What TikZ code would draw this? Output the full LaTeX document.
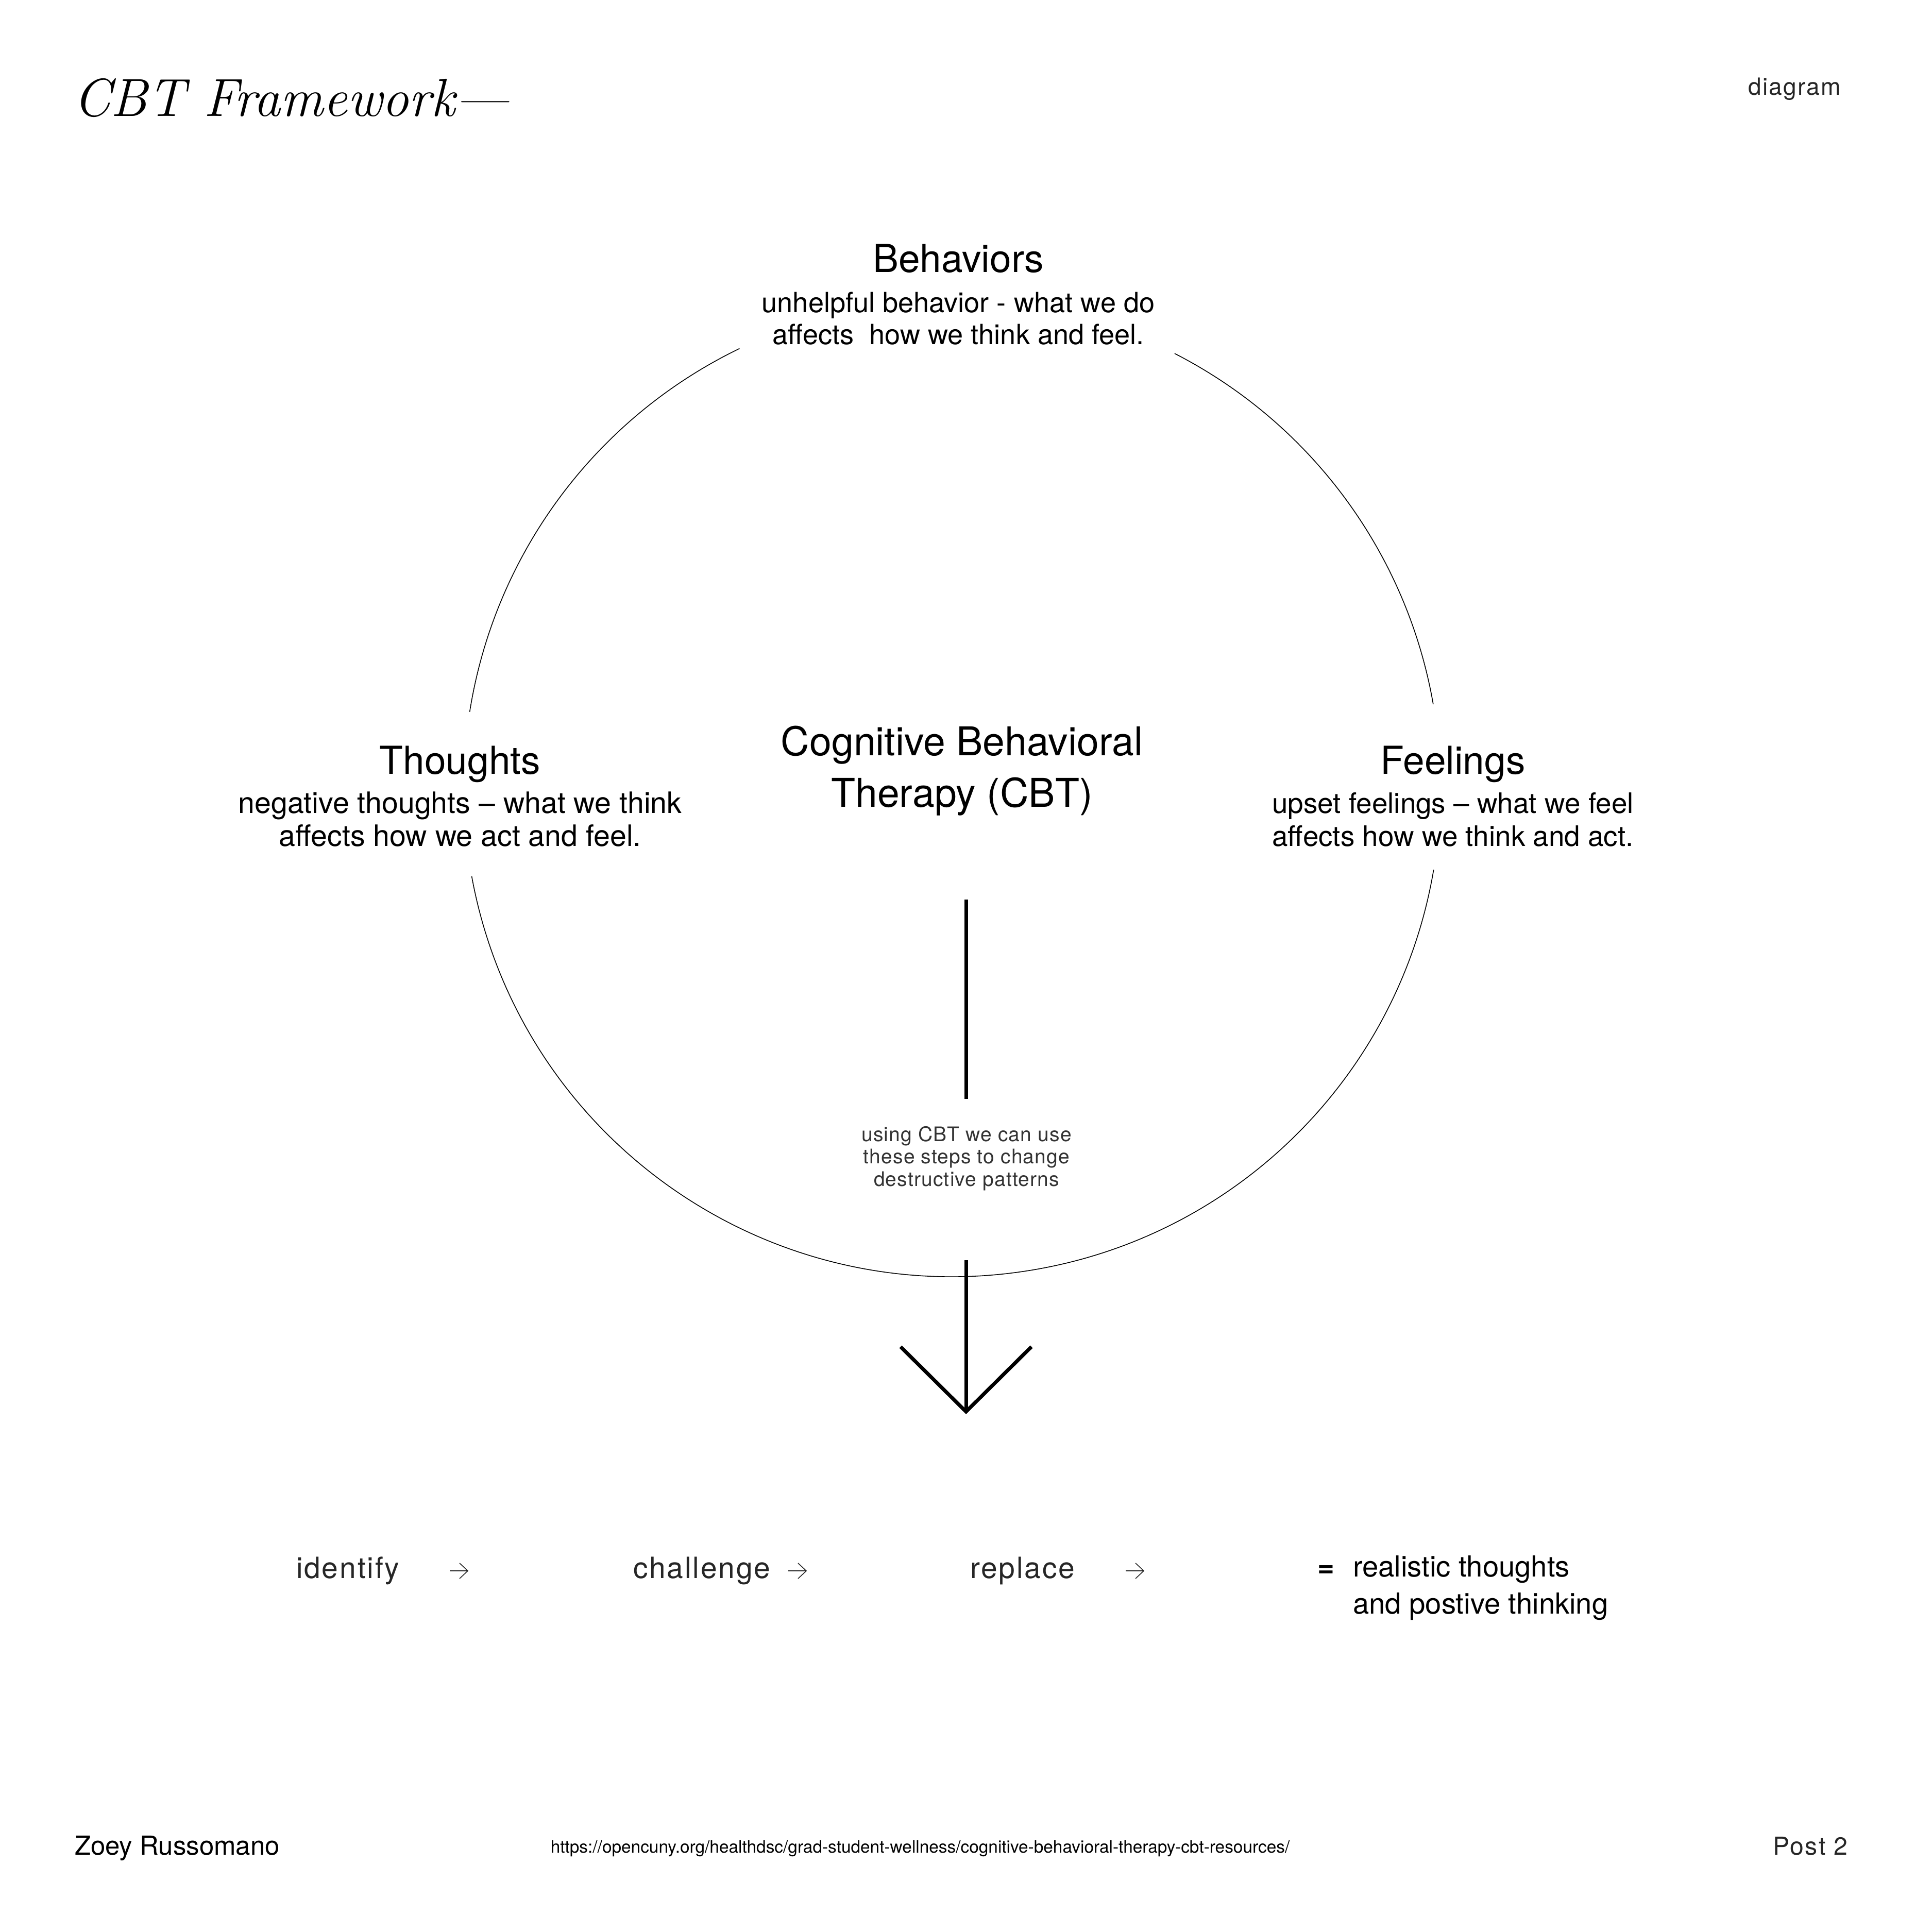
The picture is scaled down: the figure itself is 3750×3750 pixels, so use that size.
\documentclass[tikz,border=0pt]{standalone}
\usepackage{fontspec}
\newfontfamily\heros{TeX Gyre Heros}
\newfontfamily\herosls[LetterSpace=5]{TeX Gyre Heros}
\newfontfamily\herosst[LetterSpace=3]{TeX Gyre Heros}
\newcommand{\fsz}[2]{\fontsize{#1}{#2}\selectfont}
\begin{document}
\begin{tikzpicture}[x=0.1mm,y=-0.1mm,
  txt/.style={inner sep=0pt,outer sep=0pt,text=black},
  head/.style={txt,anchor=base,font=\heros\fsz{21.3}{25}},
  desc/.style={txt,anchor=base,font=\heros\fsz{15.9}{19}},
  stepword/.style={txt,anchor=base west,text=black!85,font=\herosls\fsz{16.2}{19}},
  usetext/.style={txt,anchor=base,text=black!80,font=\herosst\fsz{11.1}{13}},
  ring/.style={line width=0.45pt,black},
  bigarrow/.style={line width=2pt,black,line cap=butt,line join=miter},
  smallarrow/.style={line width=0.45pt,black!85}]
\fill[white] (0,0) rectangle (3750,3750);
\useasboundingbox (0,0) rectangle (3750,3750);

% title and header
\node[txt,anchor=base west,font=\rmfamily\itshape\fsz{29.6}{34}] (title) at (142,226) {CBT Framework—};
\node[txt,anchor=base east,text=black!85,font=\herosls\fsz{13.1}{16}] (diag) at (3573,185) {diagram};

% circle arcs
\coordinate (C) at (1848,1530);
\draw[ring] ([shift={(-9.9:948)}]C) arc[start angle=-9.9, end angle=-62.9, radius=948];
\draw[ring] ([shift={(-115.8:948)}]C) arc[start angle=-115.8, end angle=-171, radius=948];
\draw[ring] ([shift={(-190.4:948)}]C) arc[start angle=-190.4, end angle=-350.4, radius=948];

% Behaviors
\node[head] (beh) at (1860,529) {Behaviors};
\node[desc,font=\heros\fsz{15.4}{19}] (beh1) at (1860,607) {unhelpful behavior - what we do};
\node[desc,font=\heros\fsz{15.4}{19}] (beh2) at (1860,669) {affects\ \ how we think and feel.};

% Thoughts
\node[head] (tho) at (893,1502) {Thoughts};
\node[desc,font=\heros\fsz{16.3}{19}] (tho1) at (893,1578) {negative thoughts – what we think};
\node[desc,font=\heros\fsz{16.3}{19}] (tho2) at (893,1642) {affects how we act and feel.};

% Feelings
\node[head] (fee) at (2820,1502) {Feelings};
\node[desc,font=\heros\fsz{15.6}{19}] (fee1) at (2820,1578) {upset feelings – what we feel};
\node[desc,font=\heros\fsz{15.6}{19}] (fee2) at (2820,1642) {affects how we think and act.};

% center
\node[txt,anchor=base,font=\heros\fsz{21.9}{28}] (cbt1) at (1867,1466) {Cognitive Behavioral};
\node[txt,anchor=base,font=\heros\fsz{21.9}{28}] (cbt2) at (1867,1566) {Therapy (CBT)};

% arrow
\coordinate (a0) at (1875,1746);
\coordinate (a1) at (1875,2133);
\coordinate (a2) at (1875,2446);
\coordinate (tip) at (1875,2740);
\coordinate (cl) at (1748,2614);
\coordinate (cr) at (2002,2614);
\draw[bigarrow] (a0) -- (a1);
\draw[bigarrow] (a2) -- (tip);
\draw[bigarrow] (cl) -- (tip) -- (cr);

\node[usetext] (use1) at (1876,2215) {using CBT we can use};
\node[usetext] (use2) at (1876,2258) {these steps to change};
\node[usetext] (use3) at (1876,2302) {destructive patterns};

% steps
\node[stepword] (s1) at (575,3063) {identify};
\node[stepword] (s2) at (1229,3063) {challenge};
\node[stepword] (s3) at (1883,3063) {replace};
\foreach \n/\x in {1/873,2/1530,3/2185}{
  \coordinate (sa\n) at (\x,3049);
  \coordinate (sb\n) at (\x+35,3049);
  \coordinate (su\n) at (\x+19,3034);
  \coordinate (sd\n) at (\x+19,3064);
  \draw[smallarrow] (sa\n) -- (sb\n);
  \draw[smallarrow] (su\n) -- (sb\n) -- (sd\n);
}
\node[txt,anchor=base west,font=\heros\bfseries\fsz{16}{19}] (eq) at (2557,3060) {=};
\node[txt,anchor=base west,font=\heros\fsz{16}{19}] (res1) at (2626,3060) {realistic thoughts};
\node[txt,anchor=base west,font=\heros\fsz{16}{19}] (res2) at (2626,3132) {and postive thinking};

% footer
\node[txt,anchor=base west,font=\heros\fsz{14.5}{17}] (auth) at (145,3600) {Zoey Russomano};
\node[txt,anchor=base,font=\heros\fsz{9.5}{11}] (url) at (1786,3596) {https://opencuny.org/healthdsc/grad-student-wellness/cognitive-behavioral-therapy-cbt-resources/};
\node[txt,anchor=base east,text=black!85,font=\herosls\fsz{13.7}{16}] (post) at (3586,3600) {Post 2};
\end{tikzpicture}
\end{document}
